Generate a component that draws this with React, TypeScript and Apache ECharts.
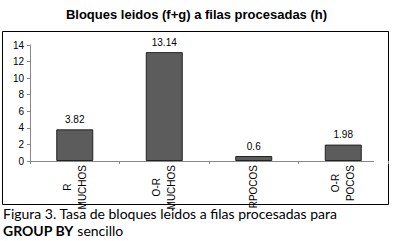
import React, { useEffect, useRef } from "react";
import * as echarts from "echarts";

const categories = ["R\nMUCHOS", "O-R\nMUCHOS", "RPOCOS", "O-R\nPOCOS"];
const values = [3.82, 13.14, 0.6, 1.98];
const yTicks = { min: 0, max: 14, interval: 2 };
const titleText = "Bloques leidos (f+g) a filas procesadas (h)";
const captionLine1 = "Figura 3. Tasa de bloques leidos a filas procesadas para";
const captionBold = "GROUP BY";
const captionRest = " sencillo";

export default function App() {
  const ref = useRef<HTMLDivElement>(null);
  useEffect(() => {
    if (!ref.current) return;
    const chart = echarts.init(ref.current, null, { renderer: "svg" });
    const font = "Liberation Sans, Arial, sans-serif";
    chart.setOption({
      animation: false,
      backgroundColor: "#ffffff",
      title: {
        text: titleText,
        left: "center",
        top: 3,
        textStyle: { fontFamily: font, fontSize: 13, fontWeight: "bold", color: "#000" },
      },
      grid: { left: 30, top: 45, width: 358, height: 116 },
      xAxis: {
        type: "category",
        data: categories,
        axisLine: { show: false },
        axisTick: { show: true, length: 3, lineStyle: { color: "#888" } },
        axisLabel: {
          rotate: 90,
          margin: 4,
          fontFamily: font,
          fontSize: 10,
          color: "#000",
          lineHeight: 15,
          formatter: (v: string) => v.split("\n").map((s) => `{c|${s}}`).join("\n"),
          rich: { c: { align: "center", fontFamily: font, fontSize: 10, color: "#000", lineHeight: 15 } },
        },
      },
      yAxis: {
        type: "value",
        min: yTicks.min,
        max: yTicks.max,
        interval: yTicks.interval,
        splitLine: { show: false },
        axisLine: { show: true, lineStyle: { color: "#888" } },
        axisTick: { show: true, length: 3, lineStyle: { color: "#888" } },
        axisLabel: { margin: 6, fontFamily: font, fontSize: 10, color: "#000" },
      },
      series: [
        {
          type: "bar",
          data: values,
          barWidth: 37,
          itemStyle: { color: "#5c5c5c", borderColor: "#222", borderWidth: 1 },
          label: {
            show: true,
            position: "top",
            distance: 5,
            fontFamily: font,
            fontSize: 10,
            color: "#000",
          },
        },
      ],
      graphic: [
        {
          type: "rect",
          shape: { x: 2.5, y: 31.5, width: 386, height: 173 },
          style: { fill: "none", stroke: "#000", lineWidth: 1 },
          silent: true,
        },
        {
          type: "line",
          shape: { x1: 30, y1: 161.5, x2: 374, y2: 161.5 },
          style: { stroke: "#888", lineWidth: 1 },
          silent: true,
        },
        {
          type: "text",
          x: 3,
          y: 206,
          style: {
            text: captionLine1,
            fontFamily: "Lato, sans-serif",
            fontSize: 14,
            fill: "#000",
          },
        },
        {
          type: "text",
          x: 3,
          y: 223,
          style: {
            text: `{b|${captionBold}}${captionRest}`,
            fontFamily: "Lato, sans-serif",
            fontSize: 14,
            fill: "#000",
            rich: { b: { fontFamily: "Lato, sans-serif", fontSize: 14, fontWeight: "bold", fill: "#000" } },
          },
        },
      ],
    });
    return () => chart.dispose();
  }, []);
  return (
    <div
      ref={ref}
      style={{ position: "fixed", left: 0, top: 0, width: 393, height: 241 }}
    />
  );
}
